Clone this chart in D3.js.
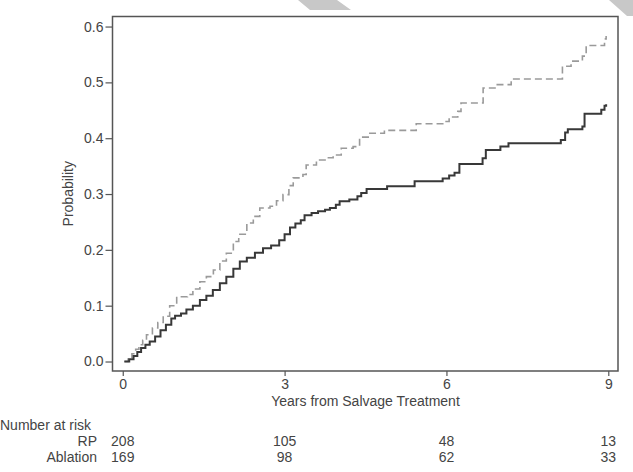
<!DOCTYPE html>
<html>
<head>
<meta charset="utf-8">
<script src="https://cdn.jsdelivr.net/npm/d3@7"></script>
<style>
  body { margin: 0; background: #fff; }
  svg { display: block; font-family: "Liberation Sans", Arial, sans-serif; }
  .axis text { font-size: 14px; fill: #444; }
  .axis line { stroke: #555; stroke-width: 1.2; }
  .axis path { display: none; }
  .label { font-size: 14px; fill: #444; }
</style>
</head>
<body>
<svg id="chart"></svg>
<script>
// Cumulative probability, RP (solid)
const rpTime = [0.03, 0.12, 0.2, 0.27, 0.34, 0.42, 0.5, 0.6, 0.7, 0.8,
  0.9, 0.97, 1.08, 1.18, 1.3, 1.43, 1.55, 1.67, 1.8, 1.92,
  2.05, 2.17, 2.3, 2.45, 2.6, 2.75, 2.9, 3.0, 3.1, 3.2,
  3.3, 3.37, 3.5, 3.62, 3.75, 3.84, 3.95, 4.02, 4.2, 4.35,
  4.42, 4.52, 4.9, 5.41, 5.93, 6.05, 6.15, 6.24, 6.67, 6.73,
  7.0, 7.15, 8.12, 8.2, 8.25, 8.52, 8.56, 8.87, 8.93, 8.96];
const rpProb = [0, 0.004, 0.01, 0.017, 0.024, 0.03, 0.036, 0.045, 0.056, 0.066,
  0.077, 0.082, 0.086, 0.093, 0.1, 0.11, 0.118, 0.128, 0.14, 0.152,
  0.166, 0.179, 0.186, 0.195, 0.203, 0.208, 0.217, 0.228, 0.24, 0.247,
  0.253, 0.262, 0.266, 0.269, 0.272, 0.275, 0.281, 0.287, 0.29, 0.296,
  0.302, 0.309, 0.314, 0.323, 0.328, 0.333, 0.338, 0.354, 0.364, 0.379,
  0.385, 0.391, 0.397, 0.41, 0.416, 0.421, 0.444, 0.451, 0.458, 0.461];

// Cumulative probability, Ablation (dashed)
const ablTime = [0.03, 0.1, 0.17, 0.24, 0.3, 0.37, 0.44, 0.55, 0.65, 0.75,
  0.87, 1.0, 1.2, 1.3, 1.43, 1.55, 1.68, 1.8, 1.92, 2.05,
  2.15, 2.3, 2.42, 2.54, 2.73, 2.85, 2.97, 3.08, 3.16, 3.34,
  3.4, 3.59, 3.75, 3.9, 4.05, 4.27, 4.39, 4.55, 4.85, 5.44,
  5.95, 6.05, 6.21, 6.27, 6.68, 6.92, 7.2, 8.15, 8.31, 8.52,
  8.59, 8.93, 8.96];
const ablProb = [0, 0.006, 0.014, 0.022, 0.03, 0.038, 0.048, 0.06, 0.07, 0.081,
  0.1, 0.116, 0.12, 0.13, 0.143, 0.152, 0.164, 0.18, 0.194, 0.215,
  0.228, 0.248, 0.26, 0.275, 0.278, 0.288, 0.299, 0.315, 0.329, 0.335,
  0.352, 0.361, 0.365, 0.37, 0.382, 0.385, 0.402, 0.409, 0.414, 0.426,
  0.43, 0.438, 0.448, 0.463, 0.49, 0.496, 0.506, 0.529, 0.538, 0.547,
  0.566, 0.578, 0.583];

// Ticks and number-at-risk table
const xTicks = [0, 3, 6, 9];
const yTicks = [0, 0.1, 0.2, 0.3, 0.4, 0.5, 0.6];
const riskGroups = ["RP", "Ablation"];
const riskRP = [208, 105, 48, 13];
const riskAbl = [169, 98, 62, 33];

const width = 633, height = 472;
const margin = { top: 16.5, left: 112.5, right: 15, bottom: 101 };
const innerW = width - margin.left - margin.right;
const innerH = height - margin.top - margin.bottom;

const svg = d3.select("#chart").attr("width", width).attr("height", height);

// faint ribbon shapes along the top edge of the source image
svg.append("path")
  .attr("d", "M298,0 L337,0 L351,10 L310,10 Z M609,0 L633,0 L633,16 L627,16 Z")
  .attr("fill", "#c8c8c8");

const g = svg.append("g")
  .attr("transform", `translate(${margin.left},${margin.top})`);

const x = d3.scaleLinear().domain([-0.19, 9.18]).range([0, innerW]);
const y = d3.scaleLinear().domain([-0.017, 0.618]).range([innerH, 0]);

// Axes
g.append("g")
  .attr("class", "axis")
  .call(d3.axisLeft(y).tickValues(yTicks).tickFormat(d3.format(".1f"))
    .tickSize(7).tickPadding(2));

g.append("g")
  .attr("class", "axis")
  .attr("transform", `translate(0,${innerH})`)
  .call(d3.axisBottom(x).tickValues(xTicks).tickSize(5).tickPadding(3));

// Plot frame
g.append("rect")
  .attr("width", innerW)
  .attr("height", innerH)
  .attr("fill", "none")
  .attr("stroke", "#555")
  .attr("stroke-width", 1.5);

// Curves
const line = d3.line()
  .x((d) => x(d[0]))
  .y((d) => y(d[1]))
  .curve(d3.curveStepAfter);

g.append("path")
  .datum(ablTime.map((t, i) => [t, ablProb[i]]))
  .attr("d", line)
  .attr("fill", "none")
  .attr("stroke", "#9a9a9a")
  .attr("stroke-width", 1.6)
  .attr("stroke-dasharray", "7,4");

g.append("path")
  .datum(rpTime.map((t, i) => [t, rpProb[i]]))
  .attr("d", line)
  .attr("fill", "none")
  .attr("stroke", "#383838")
  .attr("stroke-width", 2);

// Axis titles
svg.append("text")
  .attr("class", "label")
  .attr("transform", `translate(73,${margin.top + innerH / 2}) rotate(-90)`)
  .attr("text-anchor", "middle")
  .text("Probability");

svg.append("text")
  .attr("class", "label")
  .attr("x", margin.left + x(4.5))
  .attr("y", 406)
  .attr("text-anchor", "middle")
  .text("Years from Salvage Treatment");

// Number at risk
svg.append("text")
  .attr("class", "label")
  .attr("x", 0)
  .attr("y", 430)
  .text("Number at risk");

const rows = [riskRP, riskAbl];
riskGroups.forEach((name, r) => {
  const rowY = 446 + r * 16;
  svg.append("text")
    .attr("class", "label")
    .attr("x", 97)
    .attr("y", rowY)
    .attr("text-anchor", "end")
    .text(name);

  svg.selectAll(null)
    .data(rows[r])
    .enter()
    .append("text")
    .attr("class", "label")
    .attr("x", (d, i) => margin.left + x(xTicks[i]))
    .attr("y", rowY)
    .attr("text-anchor", "middle")
    .text((d) => d);
});
</script>
</body>
</html>
